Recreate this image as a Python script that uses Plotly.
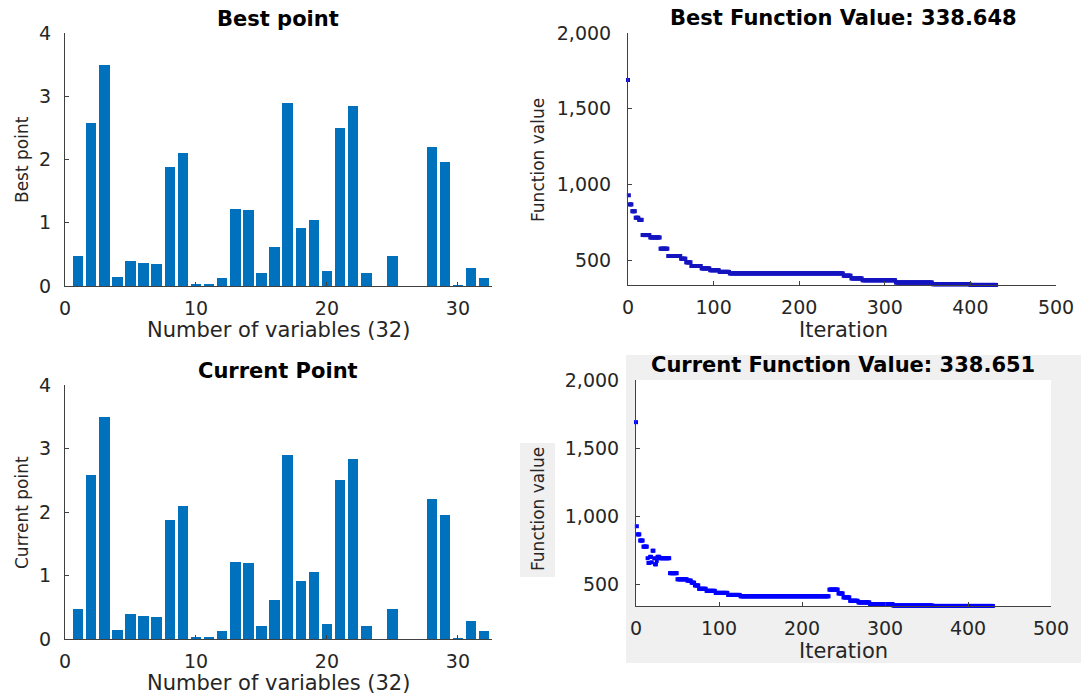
import numpy as np
import plotly.graph_objects as go

# ---------------- data ----------------
var_index = list(range(1, 33))
best_point = [0.48, 2.58, 3.49, 0.14, 0.40, 0.37, 0.35, 1.88, 2.10, 0.02, 0.02, 0.13,
              1.21, 1.20, 0.20, 0.62, 2.90, 0.92, 1.05, 0.23, 2.50, 2.84, 0.20, 0.0,
              0.48, 0.0, 0.0, 2.20, 1.96, 0.01, 0.29, 0.12]
current_point = [0.48, 2.58, 3.49, 0.14, 0.40, 0.37, 0.35, 1.88, 2.10, 0.02, 0.02, 0.13,
                 1.21, 1.20, 0.20, 0.62, 2.90, 0.92, 1.05, 0.23, 2.50, 2.84, 0.20, 0.0,
                 0.48, 0.0, 0.0, 2.20, 1.96, 0.01, 0.29, 0.12]

last_iteration = 430
# best function value: iteration where each level starts, and the level
best_step_start = [0, 1, 2, 5, 9, 13, 17, 26, 38, 47, 62, 68, 74, 86, 96, 107, 119,
                   252, 261, 274, 313, 356, 400]
best_step_value = [1690, 930, 870, 825, 782, 768, 668, 652, 578, 530, 512, 488, 464,
                   448, 436, 425, 415, 400, 382, 370, 355, 344, 339]
# current function value
cur_step_start = [0, 1, 2, 5, 9, 14, 15, 17, 19, 20, 22, 23, 25, 26, 29, 41, 50, 62,
                  67, 71, 76, 85, 96, 111, 126, 233, 244, 250, 258, 268, 282, 310, 358]
cur_step_value = [1690, 925, 865, 820, 775, 690, 655, 700, 660, 745, 690, 645, 670,
                  700, 690, 580, 535, 525, 510, 490, 465, 450, 435, 420, 410, 459, 431,
                  402, 377, 365, 353, 342, 339]

best_title = "Best Function Value: 338.648"
current_title = "Current Function Value: 338.651"


def expand(starts, values, last):
    counts = np.diff(np.array(starts + [last + 1]))
    return np.arange(last + 1), np.repeat(np.array(values, dtype=float), counts)


best_it, best_val = expand(best_step_start, best_step_value, last_iteration)
cur_it, cur_val = expand(cur_step_start, cur_step_value, last_iteration)

# ---------------- layout helpers ----------------
W, H = 1081, 698


def px(x):
    return x / W


def py(y):
    return 1 - y / H


FONT = "DejaVu Sans"
TXT = "#262626"
AX = "#404040"

fig = go.Figure()

fig.add_trace(go.Bar(x=var_index, y=best_point, marker=dict(color="#0072BD", line=dict(width=0)),
                     width=0.8, xaxis="x", yaxis="y", showlegend=False))
fig.add_trace(go.Scatter(x=best_it, y=best_val, mode="markers",
                         marker=dict(symbol="square", size=4, color="#1414c0", line=dict(width=0)),
                         cliponaxis=False, xaxis="x2", yaxis="y2", showlegend=False))
fig.add_trace(go.Bar(x=var_index, y=current_point, marker=dict(color="#0072BD", line=dict(width=0)),
                     width=0.8, xaxis="x3", yaxis="y3", showlegend=False))
fig.add_trace(go.Scatter(x=cur_it, y=cur_val, mode="markers",
                         marker=dict(symbol="square", size=4, color="#0000ff", line=dict(width=0)),
                         cliponaxis=False, xaxis="x4", yaxis="y4", showlegend=False))

common = dict(showline=True, linecolor=AX, linewidth=1, mirror=False, ticks="inside",
              ticklen=4, tickcolor=AX, showgrid=False, zeroline=False, automargin=False,
              tickfont=dict(family=FONT, size=19, color=TXT), fixedrange=True)

bar_x = dict(common, range=[0, 32.6], tickvals=[0, 10, 20, 30], ticklabelstandoff=5)
bar_y = dict(common, range=[0, 4], tickvals=[0, 1, 2, 3, 4], ticklabelstandoff=9)
line_x = dict(common, range=[0, 500], tickvals=[0, 100, 200, 300, 400, 500], ticklabelstandoff=5)
line_y = dict(common, range=[338.6, 2000], tickvals=[500, 1000, 1500, 2000], tickformat=",",
              ticklabelstandoff=12)

fig.update_layout(
    template="none",
    width=W, height=H, autosize=False,
    margin=dict(l=0, r=0, t=0, b=0, pad=0),
    paper_bgcolor="white", plot_bgcolor="rgba(0,0,0,0)",
    bargap=0,
    xaxis=dict(bar_x, domain=[px(65), px(492)], anchor="y"),
    yaxis=dict(bar_y, domain=[py(286), py(33)], anchor="x"),
    xaxis2=dict(line_x, domain=[px(628), px(1056)], anchor="y2"),
    yaxis2=dict(line_y, domain=[py(285), py(33)], anchor="x2"),
    xaxis3=dict(bar_x, domain=[px(65), px(492)], anchor="y3"),
    yaxis3=dict(bar_y, domain=[py(639), py(385)], anchor="x3"),
    xaxis4=dict(line_x, domain=[px(636), px(1051)], anchor="y4"),
    yaxis4=dict(line_y, domain=[py(606), py(380)], anchor="x4"),
)

# grey panel behind the bottom-right chart, white plot area on top of it
fig.add_shape(type="rect", xref="paper", yref="paper", x0=px(626), x1=1.0, y0=py(663), y1=py(355),
              fillcolor="#f0f0f0", line=dict(width=0), layer="below")
fig.add_shape(type="rect", xref="paper", yref="paper", x0=px(636), x1=px(1051), y0=py(606), y1=py(380),
              fillcolor="white", line=dict(width=0), layer="below")
fig.add_shape(type="rect", xref="paper", yref="paper", x0=px(520), x1=px(555), y0=py(577), y1=py(443),
              fillcolor="#f0f0f0", line=dict(width=0), layer="below")


def ann(text, x, y, size, bold=False, angle=0, color=TXT):
    fig.add_annotation(text=("<b>%s</b>" % text) if bold else text, xref="paper", yref="paper",
                       x=px(x), y=py(y), xanchor="center", yanchor="middle", showarrow=False,
                       textangle=angle, font=dict(family=FONT, size=size, color=color))


# titles
ann("Best point", 278, 19, 21, bold=True, color="black")
ann(best_title, 843, 18, 21, bold=True, color="black")
ann("Current Point", 278, 371, 21, bold=True, color="black")
ann(current_title, 843, 365, 21, bold=True, color="black")
# axis titles
ann("Number of variables (32)", 278, 330, 21)
ann("Number of variables (32)", 278, 683, 21)
ann("Iteration", 843, 330, 21)
ann("Iteration", 843, 651, 21)
ann("Best point", 22, 160, 17, angle=-90)
ann("Current point", 22, 513, 17, angle=-90)
ann("Function value", 538, 160, 17, angle=-90)
ann("Function value", 538, 509, 17, angle=-90)

fig.write_html("out.html", config={"displayModeBar": False},
               post_script="document.body.style.margin='0';document.body.style.overflow='hidden';")
